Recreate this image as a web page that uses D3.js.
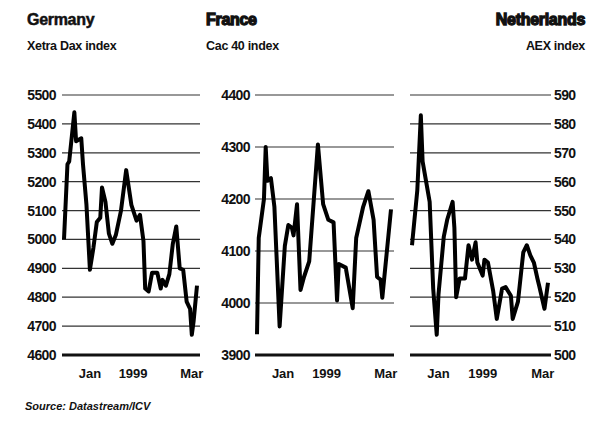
<!DOCTYPE html>
<html>
<head>
<meta charset="utf-8">
<script src="https://cdn.jsdelivr.net/npm/d3@7"></script>
<style>
  body { margin: 0; background: #fff; }
  text { font-family: "Liberation Sans", Arial, sans-serif; fill: #111; }
</style>
</head>
<body>
<div id="chart"></div>
<script>
// days counted from 31 Dec 1998
var deDays = [0, 2, 3, 6, 7, 10, 11, 13, 15, 17, 19, 21, 22, 24, 26, 28, 30, 33, 36, 39, 42, 44, 46, 47, 49, 51, 54, 56, 57, 59, 61, 63, 65, 67, 69, 71, 73, 74, 75, 77];
var deVals = [5000, 5260, 5270, 5440, 5340, 5350, 5260, 5120, 4895, 4970, 5060, 5075, 5180, 5130, 5020, 4985, 5015, 5100, 5240, 5120, 5065, 5085, 4995, 4830, 4820, 4885, 4885, 4830, 4860, 4840, 4880, 4985, 5045, 4900, 4895, 4785, 4760, 4670, 4715, 4840];

var frDays = [0, 1, 4, 5, 6, 8, 10, 13, 16, 18, 20, 21, 23, 25, 27, 30, 35, 38, 41, 44, 46, 47, 51, 55, 57, 61, 64, 67, 69, 71, 72, 77];
var frVals = [3940, 4125, 4200, 4300, 4235, 4240, 4185, 3955, 4110, 4150, 4145, 4130, 4190, 4025, 4050, 4080, 4305, 4190, 4160, 4155, 4005, 4075, 4068, 3990, 4125, 4185, 4215, 4160, 4050, 4045, 4010, 4180];

var nlDays = [0, 3, 5, 6, 8, 10, 12, 14, 15, 18, 20, 23, 24, 25, 27, 30, 32, 34, 36, 37, 40, 41, 43, 46, 48, 51, 53, 56, 57, 60, 63, 65, 67, 69, 71, 72, 75, 77];
var nlVals = [538, 557, 583, 567, 560, 553, 523, 507, 521, 541, 547, 553, 544, 520, 526.5, 526.5, 538, 533, 539, 532, 527.5, 533, 532, 522, 512.5, 523, 523.5, 520.5, 512.5, 518.5, 535.5, 538, 534.5, 532, 526.5, 524, 516, 525];

var deTicks = [4600, 4700, 4800, 4900, 5000, 5100, 5200, 5300, 5400, 5500];
var frTicks = [3900, 4000, 4100, 4200, 4300, 4400];
var nlTicks = [500, 510, 520, 530, 540, 550, 560, 570, 580, 590];

var monthLabels = ["Jan", "1999", "Mar"];
var monthDays = [15, 40, 74];

var startDate = new Date(1998, 11, 31);
var lastDay = 77;
function toDate(d) { return d3.timeDay.offset(startDate, d); }

var width = 593, height = 427;
var plotTop = 95, plotBottom = 355;

var svg = d3.select("#chart")
    .append("svg")
    .attr("width", width)
    .attr("height", height);

var panels = [
    {title: "Germany", sub: "Xetra Dax index", days: deDays, vals: deVals, ticks: deTicks,
     x0: 64, x1: 197, side: "left", labelX: 56, textX: 27, anchor: "start"},
    {title: "France", sub: "Cac 40 index", days: frDays, vals: frVals, ticks: frTicks,
     x0: 257, x1: 391, side: "left", labelX: 250, textX: 206, anchor: "start"},
    {title: "Netherlands", sub: "AEX index", days: nlDays, vals: nlVals, ticks: nlTicks,
     x0: 412, x1: 548, side: "right", labelX: 554, textX: 585, anchor: "end"}
];

panels.forEach(function (p) {
    var x = d3.scaleTime()
        .domain([startDate, toDate(lastDay)])
        .range([p.x0, p.x1]);
    var y = d3.scaleLinear()
        .domain([p.ticks[0], p.ticks[p.ticks.length - 1]])
        .range([plotBottom, plotTop]);

    var g = svg.append("g");

    // titles
    g.append("text")
        .attr("x", p.textX)
        .attr("y", 25)
        .attr("text-anchor", p.anchor)
        .style("font-size", "16px")
        .style("font-weight", "bold")
        .style("letter-spacing", "-0.3px")
        .style("stroke", "#111")
        .style("stroke-width", p.title == "Germany" ? 0.5 : 1.3)
        .text(p.title);
    g.append("text")
        .attr("x", p.textX)
        .attr("y", 50)
        .attr("text-anchor", p.anchor)
        .style("font-size", "12.5px")
        .style("font-weight", "bold")
        .style("letter-spacing", "-0.3px")
        .text(p.sub);

    // grid lines
    g.selectAll("line.grid")
        .data(p.ticks)
        .enter()
        .append("line")
        .attr("class", "grid")
        .attr("x1", p.x0 - 2)
        .attr("x2", p.x1 + 3)
        .attr("y1", function (d) { return y(d); })
        .attr("y2", function (d) { return y(d); })
        .style("stroke", function (d, i) { return i == 0 ? "#111" : "#333"; })
        .style("stroke-width", function (d, i) { return i == 0 ? 2.8 : 1.2; });

    // y tick labels
    g.selectAll("text.tick")
        .data(p.ticks)
        .enter()
        .append("text")
        .attr("class", "tick")
        .attr("x", p.labelX)
        .attr("y", function (d) { return y(d); })
        .attr("dy", "0.36em")
        .attr("text-anchor", p.side == "left" ? "end" : "start")
        .style("font-size", "14px")
        .style("font-weight", "bold")
        .style("letter-spacing", "-0.6px")
        .text(function (d) { return d; });

    // month labels
    g.selectAll("text.month")
        .data(monthLabels)
        .enter()
        .append("text")
        .attr("class", "month")
        .attr("x", function (d, i) { return x(toDate(monthDays[i])); })
        .attr("y", 378)
        .attr("text-anchor", "middle")
        .style("font-size", "13px")
        .style("font-weight", "bold")
        .text(function (d) { return d; });

    // the index line
    var line = d3.line()
        .x(function (d, i) { return x(toDate(p.days[i])); })
        .y(function (d) { return y(d); });

    g.append("path")
        .datum(p.vals)
        .attr("d", line)
        .style("fill", "none")
        .style("stroke", "#000")
        .style("stroke-width", 4)
        .style("stroke-linejoin", "round");
});

svg.append("text")
    .attr("x", 25)
    .attr("y", 410)
    .style("font-size", "11px")
    .style("font-weight", "bold")
    .style("font-style", "italic")
    .text("Source: Datastream/ICV");
</script>
</body>
</html>
